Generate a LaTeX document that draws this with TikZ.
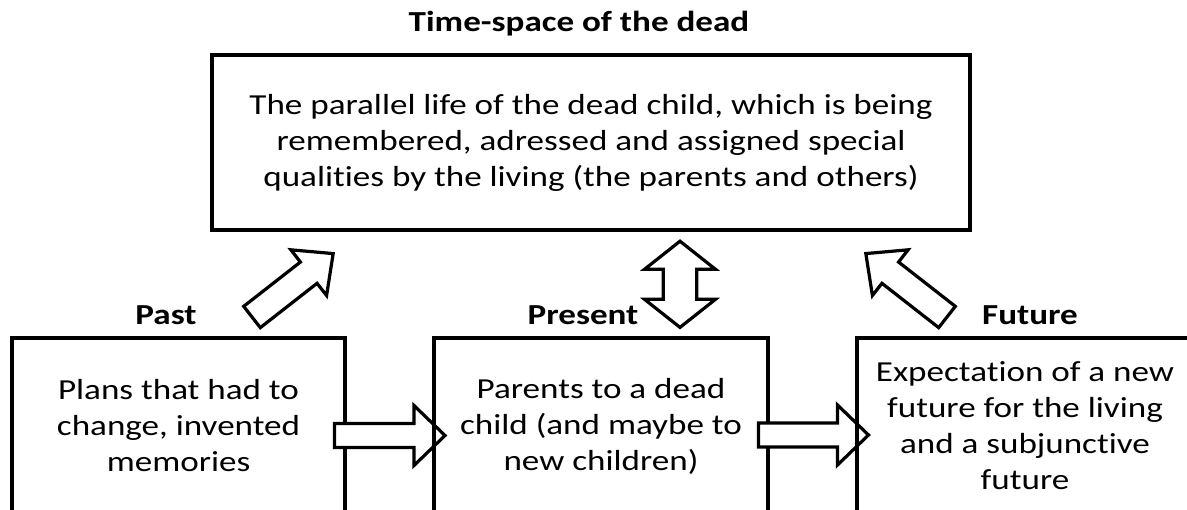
\documentclass[tikz,border=0pt]{standalone}
\usepackage{fontspec}
\setmainfont{Carlito}[FakeStretch=1.21, Ligatures=NoCommon]
\newcommand\blkarrow[6]{\draw[blk, shift={#1}, rotate=#2] (0,-#4) -- ({#3-#6},-#4) -- ({#3-#6},-#5) -- (#3,0) -- ({#3-#6},#5) -- ({#3-#6},#4) -- (0,#4) -- cycle;}
\begin{document}
\begin{tikzpicture}[x=1pt,y=-1pt,
  box/.style={draw=black, line width=3.2pt, rectangle, inner sep=0pt, align=center,
    font=\fontsize{29}{36}\selectfont},
  lbl/.style={font=\bfseries\fontsize{29}{36}\selectfont, inner sep=0pt, anchor=base},
  blk/.style={draw=black, line width=3.2pt, fill=white, line join=miter, miter limit=10}]
\useasboundingbox (0,0) rectangle (1187,510);
\clip (0,0) rectangle (1187,510);

\node[lbl] (title) at (579,32) {Time-space of the dead};
\node[box, minimum width=758pt, minimum height=175pt] (dead) at (591,142.5)
  {The parallel life of the dead child, which is being\\ remembered, adressed and assigned special\\ qualities by the living (the parents and others)};

\node[lbl] (pastlbl) at (166,325) {Past};
\node[lbl] (preslbl) at (583,325) {Present};
\node[lbl] (futlbl) at (1030,325) {Future};

\node[box, minimum width=333pt, minimum height=176pt] (past) at (178.5,426)
  {Plans that had to\\ change, invented\\ memories};
\coordinate (a1) at (334.5,435.5);
\blkarrow{(a1)}{0}{110.5}{12}{30}{31}
\node[box, minimum width=334pt, minimum height=176pt] (present) at (601,426)
  {Parents to a dead\\ child (and maybe to\\ new children)};
\coordinate (a2) at (758.5,435);
\blkarrow{(a2)}{0}{110}{12}{30}{31}
\node[box, minimum width=336pt, minimum height=176pt] (future) at (1025,426)
  {Expectation of a new\\ future for the living\\ and a subjunctive\\ future};

\coordinate (d1) at (252,317);
\blkarrow{(d1)}{38}{103}{13.5}{29}{31}
\coordinate (d2) at (947,317);
\blkarrow{(d2)}{142}{103}{13.5}{29}{31}

\draw[blk] (680,241.2) -- (715.5,269.3) -- (696.7,269.3) -- (696.7,299.3) -- (715.5,299.3)
  -- (680,327.4) -- (644.5,299.3) -- (663.3,299.3) -- (663.3,269.3) -- (644.5,269.3) -- cycle;
\end{tikzpicture}
\end{document}
